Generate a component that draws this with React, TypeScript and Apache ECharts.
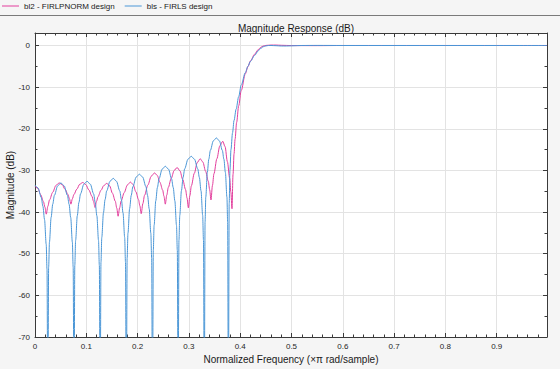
import React, { useEffect, useRef } from "react";
import * as echarts from "echarts";

const pinkName = "bl2 - FIRLPNORM design";
const blueName = "bls - FIRLS design";

const xTicks = [0, 0.1, 0.2, 0.3, 0.4, 0.5, 0.6, 0.7, 0.8, 0.9];
const yTicks = [0, -10, -20, -30, -40, -50, -60, -70];

const blueFreq = [
  0, 0.0058, 0.0122, 0.0154, 0.0186, 0.0218, 0.0234, 0.025,
  0.0266, 0.0282, 0.0314, 0.0346, 0.0378, 0.0442, 0.0505, 0.0568, 0.0632, 0.0664, 0.0696, 0.0728, 0.0744, 0.076,
  0.0776, 0.0792, 0.0824, 0.0856, 0.0888, 0.0952, 0.1015, 0.1078, 0.1142, 0.1174, 0.1206, 0.1238, 0.1254, 0.127,
  0.1286, 0.1302, 0.1334, 0.1366, 0.1398, 0.1462, 0.1525, 0.1588, 0.1652, 0.1684, 0.1716, 0.1748, 0.1764, 0.178,
  0.1796, 0.1812, 0.1844, 0.1876, 0.1908, 0.1972, 0.2035, 0.2098, 0.2162, 0.2194, 0.2226, 0.2258, 0.2274, 0.229,
  0.2306, 0.2322, 0.2354, 0.2386, 0.2418, 0.2478, 0.254, 0.2602, 0.2662, 0.2694, 0.2726, 0.2758, 0.2774, 0.279,
  0.2806, 0.2822, 0.2854, 0.2886, 0.2918, 0.2982, 0.3045, 0.3108, 0.3172, 0.3204, 0.3236, 0.3268, 0.3284, 0.33,
  0.3315, 0.3329, 0.3359, 0.3388, 0.3418, 0.3476, 0.3535, 0.3594, 0.3652, 0.3682, 0.3711, 0.3741, 0.3755, 0.377,
  0.3785, 0.38, 0.382, 0.385, 0.388, 0.392, 0.397, 0.402, 0.41, 0.415, 0.42, 0.428, 0.435, 0.44, 0.445, 0.45,
  0.455, 0.46, 0.47, 0.48, 0.49, 0.5, 0.52, 0.55, 0.6, 0.7, 0.8, 0.9, 0.998,
];
const blueDb = [
  -33.5, -34.2, -36.5, -38.6, -41.8, -47.7, -53.7, -90,
  -53.2, -47.2, -41.3, -38.1, -36.0, -33.7, -33.0, -33.7, -36.0, -38.1, -41.3, -47.2, -53.2, -90,
  -52.8, -46.8, -40.9, -37.7, -35.6, -33.3, -32.6, -33.3, -35.6, -37.7, -40.9, -46.8, -52.8, -90,
  -52.1, -46.1, -40.2, -37.0, -34.9, -32.6, -31.9, -32.6, -34.9, -37.0, -40.2, -46.1, -52.1, -90,
  -51.1, -45.1, -39.2, -36.0, -33.9, -31.6, -30.9, -31.6, -33.9, -36.0, -39.2, -45.1, -51.1, -90,
  -49.2, -43.2, -37.3, -34.1, -32.0, -29.7, -29.0, -29.7, -32.0, -34.1, -37.3, -43.2, -49.2, -90,
  -46.8, -40.8, -34.9, -31.7, -29.6, -27.3, -26.6, -27.3, -29.6, -31.7, -34.9, -40.8, -46.8, -90,
  -42.4, -36.4, -30.5, -27.3, -25.2, -22.9, -22.2, -22.9, -25.2, -27.3, -30.5, -36.4, -42.4, -90,
  -38, -30, -25, -21, -18, -15.3, -12.3, -9.5, -6.5, -5.0, -3.8, -2.4, -1.3, -0.7, -0.3, -0.1,
  0, 0, -0.05, -0.12, -0.12, -0.08, 0, 0.02, 0, 0, 0, 0, 0,
];

const pinkFreq = [
  0, 0.0055, 0.011, 0.0165, 0.0193, 0.022,
  0.0251, 0.0283, 0.0345, 0.0408, 0.047,
  0.0528, 0.0585, 0.0643, 0.0671, 0.07,
  0.0729, 0.0758, 0.0815, 0.0873, 0.093,
  0.099, 0.105, 0.111, 0.114, 0.117,
  0.1199, 0.1228, 0.1285, 0.1343, 0.14,
  0.1455, 0.151, 0.1565, 0.1593, 0.162,
  0.165, 0.168, 0.174, 0.18, 0.186,
  0.1913, 0.1965, 0.2018, 0.2044, 0.207,
  0.2103, 0.2135, 0.22, 0.2265, 0.233,
  0.2383, 0.2435, 0.2488, 0.2514, 0.254,
  0.2569, 0.2598, 0.2655, 0.2713, 0.277,
  0.2825, 0.288, 0.2935, 0.2963, 0.299,
  0.3019, 0.3048, 0.3105, 0.3163, 0.322,
  0.3273, 0.3325, 0.3378, 0.3404, 0.343,
  0.3459, 0.3488, 0.3545, 0.3603, 0.366,
  0.3705, 0.375, 0.3795, 0.3818, 0.384,
  0.386, 0.388, 0.39, 0.393, 0.397, 0.402, 0.41, 0.415, 0.42, 0.428, 0.435, 0.44,
  0.445, 0.45, 0.46, 0.47, 0.48, 0.5, 0.55, 0.6, 0.7, 0.8, 0.9, 0.998,
];
const pinkDb = [
  -33.8, -34.3, -35.8, -37.5, -38.8, -40.5,
  -38.6, -37.1, -35.25, -33.6, -33.0,
  -33.4, -34.5, -35.8, -36.8, -38.1,
  -36.8, -35.8, -34.5, -33.3, -32.9,
  -33.4, -34.7, -36.2, -37.4, -38.9,
  -37.45, -36.3, -34.8, -33.6, -33.1,
  -33.7, -35.5, -37.4, -39.0, -41.0,
  -38.95, -37.3, -35.3, -33.5, -32.8,
  -33.4, -35.1, -37.0, -38.5, -40.4,
  -37.95, -36.0, -33.5, -31.4, -30.6,
  -31.2, -32.85, -34.7, -36.2, -38.1,
  -35.9, -34.1, -31.9, -30.0, -29.3,
  -30.1, -32.2, -34.6, -36.6, -39.0,
  -36.05, -33.7, -30.7, -28.1, -27.2,
  -28.0, -30.2, -32.6, -34.6, -37.1,
  -33.6, -30.8, -27.2, -24.1, -23.0,
  -24.3, -27.9, -31.9, -35.2, -39.2,
  -31, -26, -22.5, -18.5, -14.5, -10.8, -6.8, -5.1, -3.7, -2.1, -1.0, -0.45,
  -0.12, 0.02, 0.1, 0.1, 0.05, -0.02, -0.03, 0, 0, 0, 0, 0,
];

const FONT = "'Liberation Sans', Arial, Helvetica, sans-serif";
const AXIS_COLOR = "#3a3a3a";
const LABEL_COLOR = "#262626";
const GRID_COLOR = "#e3e3e3";

export default function App() {
  const ref = useRef<HTMLDivElement>(null);

  useEffect(() => {
    document.body.style.margin = "0";
    const chart = echarts.init(ref.current!, undefined, { renderer: "svg" });

    const xFmt = (v: number) => {
      const hit = xTicks.find((t) => Math.abs(t - v) < 1e-6);
      return hit === undefined ? "" : String(hit);
    };
    const yFmt = (v: number) => {
      const hit = yTicks.find((t) => Math.abs(t - v) < 1e-6);
      return hit === undefined ? "" : String(hit);
    };

    const xCommon = {
      type: "value" as const,
      min: 0,
      max: 0.998,
      interval: 0.1,
      axisLine: { show: true, onZero: false, lineStyle: { color: AXIS_COLOR, width: 1 } },
      axisTick: { show: true, inside: true, length: 4, lineStyle: { color: AXIS_COLOR } },
      minorTick: { show: true, splitNumber: 5, length: 2.5, lineStyle: { color: AXIS_COLOR } },
    };
    const yCommon = {
      type: "value" as const,
      min: -70,
      max: 3,
      interval: 10,
      axisLine: { show: true, onZero: false, lineStyle: { color: AXIS_COLOR, width: 1 } },
      axisTick: { show: true, inside: true, length: 4, lineStyle: { color: AXIS_COLOR } },
      minorTick: { show: true, splitNumber: 2, length: 2.5, lineStyle: { color: AXIS_COLOR } },
    };

    chart.setOption({
      animation: false,
      backgroundColor: "#f5f5f5",
      textStyle: { fontFamily: FONT },
      title: {
        text: "Magnitude Response (dB)",
        left: 291,
        top: 18,
        textAlign: "center",
        textStyle: { fontSize: 10, fontWeight: "normal", color: "#1a1a1a", fontFamily: FONT },
      },
      legend: {
        left: 2,
        top: 2,
        itemWidth: 17,
        itemHeight: 1,
        itemGap: 10,
        icon: "rect",
        padding: 0,
        textStyle: { fontSize: 8, color: "#1a1a1a", fontFamily: FONT },
        data: [pinkName, blueName],
      },
      graphic: [
        {
          type: "line",
          shape: { x1: 0, y1: 15.5, x2: 560, y2: 15.5 },
          style: { stroke: "#7a7a7a", lineWidth: 1 },
          silent: true,
        },
      ],
      grid: {
        left: 35,
        right: 13,
        top: 33,
        bottom: 32,
        show: true,
        backgroundColor: "#ffffff",
        borderWidth: 0,
        containLabel: false,
        outerBoundsMode: "none",
      },
      xAxis: [
        {
          ...xCommon,
          position: "bottom",
          name: "Normalized Frequency (\u00d7\u03c0 rad/sample)",
          nameLocation: "middle",
          nameGap: 15,
          nameTextStyle: { fontSize: 10, color: "#1a1a1a", fontFamily: FONT },
          axisLabel: { fontSize: 8, color: LABEL_COLOR, margin: 5, formatter: xFmt },
          splitLine: { show: true, lineStyle: { color: GRID_COLOR, width: 1 } },
        },
        {
          ...xCommon,
          position: "top",
          axisLabel: { show: false },
          splitLine: { show: false },
        },
      ],
      yAxis: [
        {
          ...yCommon,
          position: "left",
          name: "Magnitude (dB)",
          nameLocation: "middle",
          nameGap: 20,
          nameMoveOverlap: false,
          nameTextStyle: { fontSize: 10, color: "#1a1a1a", fontFamily: FONT },
          axisLabel: { fontSize: 8, color: LABEL_COLOR, margin: 5, formatter: yFmt },
          splitLine: { show: true, lineStyle: { color: GRID_COLOR, width: 1 } },
        },
        {
          ...yCommon,
          position: "right",
          axisLabel: { show: false },
          splitLine: { show: false },
        },
      ],
      series: [
        {
          name: pinkName,
          type: "line",
          xAxisIndex: 0,
          yAxisIndex: 0,
          data: pinkFreq.map((f, i) => [f, pinkDb[i]]),
          showSymbol: false,
          smooth: 0.3,
          smoothMonotone: "x",
          clip: true,
          color: "#e23d9c",
          lineStyle: { width: 1, color: "#e23d9c" },
        },
        {
          name: blueName,
          type: "line",
          xAxisIndex: 0,
          yAxisIndex: 0,
          data: blueFreq.map((f, i) => [f, blueDb[i]]),
          showSymbol: false,
          smooth: 0.3,
          smoothMonotone: "x",
          clip: true,
          color: "#4a96d6",
          lineStyle: { width: 1, color: "#4a96d6" },
        },
      ],
    });

    return () => chart.dispose();
  }, []);

  return <div ref={ref} style={{ width: 560, height: 369 }} />;
}
